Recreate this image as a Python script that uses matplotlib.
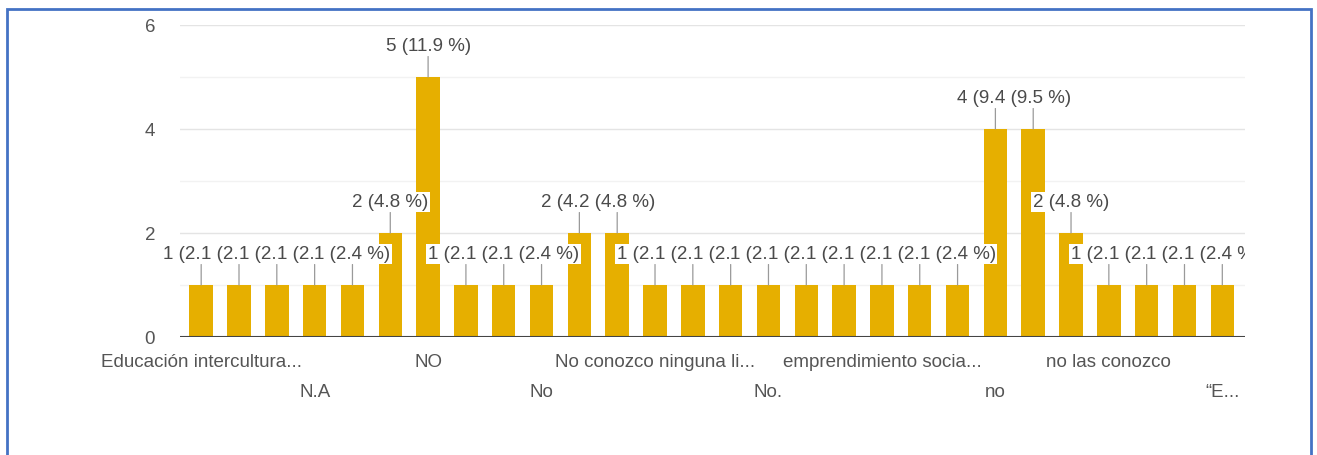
import matplotlib.pyplot as plt
from matplotlib.patches import Rectangle
from matplotlib.transforms import Bbox, TransformedBbox

# -- data (responses per answer)
values = [1, 1, 1, 1, 1, 2, 5, 1, 1, 1, 2, 2, 1, 1,
          1, 1, 1, 1, 1, 1, 1, 4, 4, 2, 1, 1, 1, 1]

# only every third category name is printed on the axis
shown_labels = ["Educación intercultura...", "N.A", "NO", "No",
                "No conozco ninguna li...", "No.", "emprendimiento socia...",
                "no", "no las conozco", "“E..."]
label_step = 3

y_ticks = [0, 2, 4, 6]

plt.rcParams['font.family'] = ['Liberation Sans', 'DejaVu Sans']

bar_color = '#E6AF00'
text_color = '#555555'
fsize = 13.5

fig = plt.figure(figsize=(13.17, 4.55), dpi=100)
W, H = 1317, 455
ax = fig.add_axes([180 / W, 1 - 337 / H, (1245 - 180) / W, (337 - 25) / H])

positions = list(range(len(values)))
ax.bar(positions, values, width=0.62, color=bar_color, zorder=2)

ax.set_xlim(-0.56, len(values) - 0.4)
ax.set_ylim(0, 6)

# gridlines: major on even values, fainter minor lines on odd ones
ax.set_yticks(y_ticks)
ax.set_yticks([1, 3, 5], minor=True)
ax.grid(axis='y', which='major', color='#E4E4E4', lw=1, zorder=0)
ax.grid(axis='y', which='minor', color='#F2F2F2', lw=1, zorder=0)
ax.axhline(0, color='#444444', lw=1.5, zorder=4)
for s in ax.spines.values():
    s.set_visible(False)
ax.tick_params(axis='y', which='both', length=0, pad=18,
               labelsize=fsize, labelcolor=text_color)

# x labels alternate between two rows
tick_pos = positions[::label_step]
tick_txt = []
for k, name in enumerate(shown_labels):
    tick_txt.append(name if k % 2 == 0 else "\n" + name)
ax.set_xticks(tick_pos)
ax.set_xticklabels(tick_txt)
ax.tick_params(axis='x', length=0, pad=12, labelsize=fsize, labelcolor=text_color)
for t in ax.get_xticklabels():
    t.set_linespacing(2.0)

# labels may spill left of the plot but are cut at its right edge
clip = TransformedBbox(Bbox([[-1, 0], [1, 1.5]]), ax.transAxes)

# value labels with a leader line, later labels overlap earlier ones
total = sum(values)
for i, v in enumerate(values):
    txt = f"{v} ({v / total * 100:.1f} %)"
    ann = ax.annotate(txt, xy=(i, v), xytext=(0, 22), textcoords='offset points',
                      ha='center', va='center', fontsize=fsize, color='#4A4A4A',
                      bbox=dict(boxstyle='square,pad=0.08', fc='white', ec='none'),
                      arrowprops=dict(arrowstyle='-', color='#9A9A9A', lw=0.9,
                                      shrinkA=0, shrinkB=0),
                      zorder=3 + i * 0.01)
    ann.set_clip_on(True)
    ann.set_clip_box(clip)

# blue frame round the screenshot
fig.patches.append(Rectangle((7 / W, -0.1), (1311 - 7) / W, 1 - 9 / H + 0.1,
                             transform=fig.transFigure, fill=False,
                             edgecolor='#4472C4', lw=2))

fig.savefig('out.png', dpi=100)
